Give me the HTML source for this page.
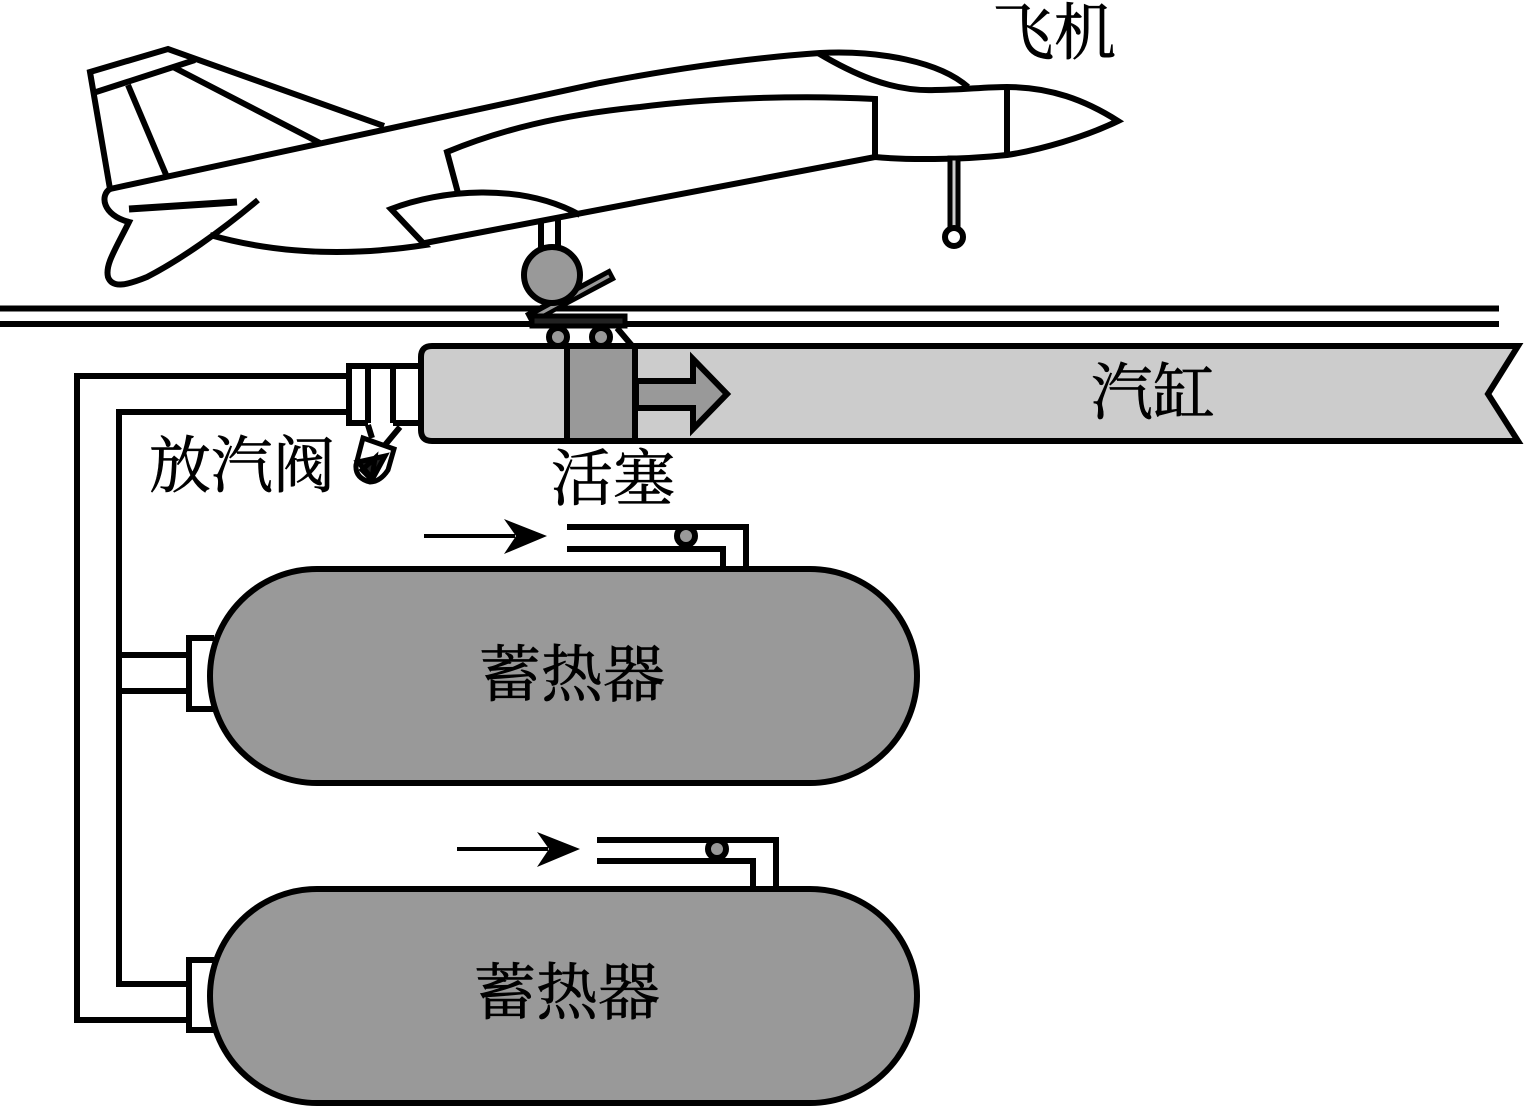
<!DOCTYPE html>
<html lang="zh">
<head>
<meta charset="utf-8">
<style>
html,body{margin:0;padding:0;background:#fff;width:1525px;height:1108px;overflow:hidden}
svg{display:block}
text{font-family:"Liberation Serif","Noto Serif CJK SC",serif;font-size:62px;fill:#000;stroke:#000;stroke-width:.7px}
</style>
</head>
<body>
<svg width="1525" height="1108" viewBox="0 0 1525 1108" xmlns="http://www.w3.org/2000/svg">
<g fill="none" stroke="#000" stroke-width="6" stroke-linejoin="miter">
  <!-- aircraft -->
  <path d="M110 189L90 72L168 49L384 126"/>
  <path d="M93 93L195 60"/>
  <path d="M173 67L320 143"/>
  <path d="M128 85L167 177"/>
  <path d="M110 189L600 83Q720 60 820 53C880 50 940 62 968 87"/>
  <path d="M818 53C850 72 890 92 935 90C960 90 985 87 1007 87C1050 87 1085 100 1118 121C1085 137 1040 150 1007 155C960 160 905 160 875 157L425 243"/>
  <path d="M1007 87V155"/>
  <path d="M875 157V99C800 95 710 98 640 107C560 115 500 130 447 152L458 193"/>
  <path d="M580 215C520 182 440 190 391 209L425 245C340 258 270 252 210 235"/>
  <path d="M110 189C100 195 102 215 129 222C115 250 105 265 108 277C112 288 125 286 147 277C180 260 220 232 258 200"/>
  <path d="M129 209L237 202" stroke-width="7"/>
  <!-- nose gear -->
  <rect x="950" y="158" width="8" height="72" fill="#ccc" stroke-width="5"/>
  <circle cx="954" cy="237" r="9" fill="#fff"/>
  <!-- main gear strut -->
  <path d="M541 222V252M558 219V252"/>
  <!-- rails -->
  <path d="M0 308.500H1499M0 324H1499" stroke-width="6"/>
  <!-- ramp -->
  <path d="M528 319L613 274" stroke-width="13"/>
  <path d="M534 317L609 276" stroke="#999" stroke-width="3"/>
  <circle cx="552" cy="275" r="28" fill="#999" stroke-width="6"/>
  <rect x="532" y="316" width="93" height="10" fill="#222" stroke-width="5"/>
  <path d="M617 328L634 348"/>
  <circle cx="558" cy="337" r="9" fill="#999" stroke-width="6"/>
  <circle cx="601" cy="337" r="9" fill="#999" stroke-width="6"/>
  <!-- cylinder -->
  <path d="M432 346H1518L1488 394L1518 441H432Q421 441 421 430V357Q421 346 432 346Z" fill="#ccc"/>
  <rect x="567" y="346" width="68" height="95" fill="#999"/>
  <path d="M636 381H693V359L727 394L693 429V408H636Z" fill="#999"/>
  <!-- valve -->
  <path d="M347 376H77V1020H188M347 412H119V984H188M119 655H188M119 691H188"/>
  <path d="M419 366H349V423H368M393 423H419M368 366V423M393 366V423"/>
  <path d="M368 425L372 438M400 427L385 445"/>
  <path d="M363 438L394 449L388 470Q380 482 370 482Q355 478 356 465Z" fill="#fff" stroke-width="5"/>
  <path d="M358 462L385 456L372 480L362 470L375 458L372 478Z" fill="#222" stroke-width="5"/>
  <!-- tanks -->
  <path d="M214 638H189V709H214M214 960H189V1030H214"/>
  <rect x="210" y="569" width="707" height="214" rx="107" ry="107" fill="#999"/>
  <rect x="210" y="889" width="707" height="214" rx="107" ry="107" fill="#999"/>
  <!-- charge pipes -->
  <path d="M567 527H746V569M567 549H723V569"/>
  <circle cx="686" cy="536" r="9" fill="#999" stroke-width="6"/>
  <path d="M597 840H776V889M597 861H753V889"/>
  <circle cx="717" cy="849" r="9" fill="#999" stroke-width="6"/>
  <path d="M424 536H515M457 849H548" stroke-width="4"/>
</g>
<path d="M504 519L547 536L504 554L516 536Z" fill="#000"/>
<path d="M537 832L580 849L537 867L549 849Z" fill="#000"/>
<text x="992" y="54">飞机</text>
<text x="1091" y="414">汽缸</text>
<text x="149" y="487">放汽阀</text>
<text x="551" y="500">活塞</text>
<text x="479" y="696">蓄热器</text>
<text x="474" y="1014">蓄热器</text>
</svg>
</body>
</html>
